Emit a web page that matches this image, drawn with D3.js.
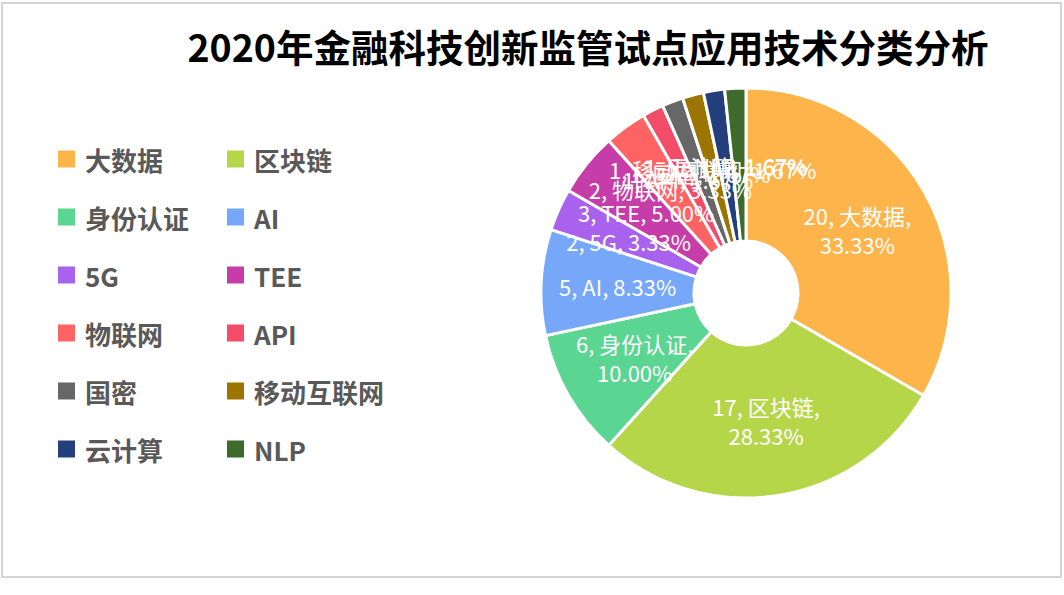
<!DOCTYPE html>
<html>
<head>
<meta charset="utf-8">
<script src="https://cdn.jsdelivr.net/npm/d3@7"></script>
<style>
  html, body { margin: 0; padding: 0; background: #fff; }
  svg { display: block; font-family: "Noto Sans CJK SC", "Noto Sans", sans-serif; }
</style>
</head>
<body>
<svg id="chart" width="1064" height="595"></svg>
<script>
const title = "2020年金融科技创新监管试点应用技术分类分析";
const categories = ["大数据", "区块链", "身份认证", "AI", "5G", "TEE", "物联网", "API", "国密", "移动互联网", "云计算", "NLP"];
const values = [20, 17, 6, 5, 2, 3, 2, 1, 1, 1, 1, 1];
const colors = ["#FDB44B", "#B6D64A", "#5BD592", "#77A7F8", "#A862EE", "#C63DAA", "#FF6464", "#F24C68", "#676767", "#9C7500", "#24407C", "#3E6A2B"];
const wrapped = [true, true, true, false, false, false, false, false, false, false, false, false];

const svg = d3.select("#chart");

// frame
svg.append("rect").attr("x", 2).attr("y", 3).attr("width", 1059).attr("height", 574)
  .attr("fill", "#fff").attr("stroke", "#d4d4d4").attr("stroke-width", 2);

// title
svg.append("text").attr("x", 588).attr("y", 45)
  .attr("text-anchor", "middle").attr("dominant-baseline", "central")
  .attr("font-size", 37.5).attr("font-weight", "bold").attr("fill", "#000")
  .text(title);

const total = d3.sum(values);
const data = categories.map((c, i) => ({ name: c, value: values[i], color: colors[i], wrap: wrapped[i] }));

const cx = 746, cy = 293, rIn = 52, rOut = 205;
const pie = d3.pie().sort(null).value(d => d.value).startAngle(0).endAngle(2 * Math.PI);
const arc = d3.arc().innerRadius(rIn).outerRadius(rOut);

const g = svg.append("g").attr("transform", `translate(${cx},${cy})`);
const arcs = pie(data);

g.selectAll("path.slice").data(arcs).enter().append("path")
  .attr("class", "slice")
  .attr("d", arc)
  .attr("fill", d => d.data.color)
  .attr("stroke", "#fff").attr("stroke-width", 3).attr("stroke-linejoin", "round");

const fmt = v => (v / total * 100).toFixed(2) + "%";
const lbl = g.selectAll("text.lbl").data(arcs).enter().append("text")
  .attr("class", "lbl")
  .attr("transform", d => `translate(${arc.centroid(d)})`)
  .attr("text-anchor", "middle")
  .attr("font-size", 22).attr("fill", "#fff");

lbl.each(function(d) {
  const t = d3.select(this);
  if (d.data.wrap) {
    t.append("tspan").attr("x", 0).attr("y", -14).attr("dominant-baseline", "central")
      .text(`${d.data.value}, ${d.data.name},`);
    t.append("tspan").attr("x", 0).attr("y", 15).attr("dominant-baseline", "central")
      .text(fmt(d.data.value));
  } else {
    t.append("tspan").attr("x", 0).attr("y", 0).attr("dominant-baseline", "central")
      .text(`${d.data.value}, ${d.data.name}, ${fmt(d.data.value)}`);
  }
});

// legend
const colX = [58, 227];
const rowY = d3.scaleLinear().domain([0, 5]).range([159, 449]);
const lg = svg.append("g");
data.forEach((d, i) => {
  const x = colX[i % 2], y = rowY(Math.floor(i / 2));
  lg.append("rect").attr("x", x).attr("y", y - 8.5).attr("width", 17).attr("height", 17).attr("fill", d.color);
  lg.append("text").attr("x", x + 27).attr("y", y)
    .attr("dominant-baseline", "central")
    .attr("font-size", 26).attr("font-weight", "bold").attr("fill", "#595959")
    .text(d.name);
});
</script>
</body>
</html>
